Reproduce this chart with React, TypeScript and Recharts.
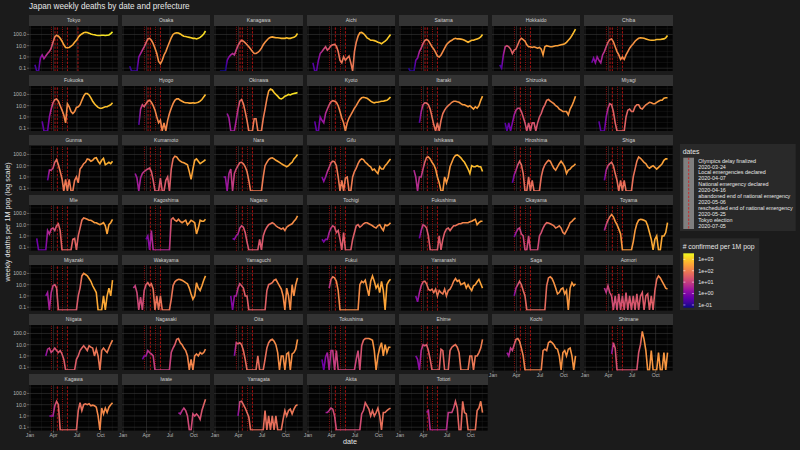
import React from "react";
import {
  LineChart,
  Line,
  XAxis,
  YAxis,
  CartesianGrid,
  ReferenceLine,
} from "recharts";

// weekly confirmed per 1M pop, one sample every 7 days from each start day (day 0 = 2020-01-01)
const tokyo = [0.2, 0, 0, 0.8, 1.5, 0.7, 1.2, 2, 3, 6, 20, 60, 85, 70, 45, 25, 12, 7, 6.5, 7, 9, 12, 20, 30, 55, 85, 110, 140, 155, 150, 130, 110, 100, 95, 85, 80, 80, 85, 85, 80, 85, 90, 120, 170];
const osaka = [0.15, 0, 0, 0, 0, 1, 2, 4, 8, 18, 40, 45, 30, 15, 6, 2, 0.4, 0.25, 0.5, 1.5, 3, 8, 20, 50, 100, 130, 140, 135, 110, 85, 70, 65, 60, 55, 50, 45, 45, 40, 45, 55, 75, 110, 200];
const kanagawa = [0, 0, 0, 0, 0.5, 1, 1.5, 2, 1.5, 4, 10, 20, 30, 25, 18, 12, 8, 5, 3, 2, 2, 2.5, 3.5, 6, 12, 20, 30, 45, 55, 60, 55, 50, 50, 48, 45, 45, 45, 50, 45, 45, 50, 55, 70, 120];
const aichi = [0.3, 0, 0, 0.5, 2, 3, 5, 8, 4, 6, 10, 12, 13, 9, 3, 0.5, 0.3, 1, 0.5, 0.8, 1.2, 0.3, 0, 3, 20, 70, 140, 150, 120, 80, 50, 40, 30, 30, 28, 25, 20, 18, 15, 20, 25, 35, 60, 100];
const saitama = [0.1, 0, 0, 0, 0.5, 0.8, 3, 6, 15, 28, 35, 28, 15, 8, 5, 2.5, 1.2, 1, 1.5, 3, 6, 12, 18, 25, 30, 40, 45, 40, 40, 38, 35, 30, 25, 20, 25, 30, 30, 35, 40, 45, 60, 100];
const hokkaido = [0.2, 0.1, 1.5, 8, 10, 8, 5, 2, 4, 5, 12, 30, 45, 35, 25, 12, 8, 8, 7, 8, 7, 6, 7, 5, 1.5, 8, 10, 9, 8, 8, 9, 10, 10, 11, 12, 13, 15, 20, 30, 45, 80, 150, 300];
const chiba = [0.3, 0.8, 0.3, 1, 0.5, 0.3, 1.5, 3, 8, 20, 35, 40, 22, 8, 3, 1.5, 0.6, 1, 0.6, 1.5, 3, 6, 10, 15, 25, 35, 45, 50, 48, 45, 40, 35, 32, 30, 30, 32, 35, 35, 35, 38, 40, 50, 80];
const fukuoka = [0.4, 0, 0, 0, 1, 5, 18, 35, 40, 25, 10, 4, 1.5, 0.3, 15, 8, 3, 2, 3, 7, 8, 12, 30, 70, 120, 120, 90, 50, 25, 15, 10, 7, 6, 6, 7, 8, 8, 10, 12, 18];
const hyogo = [0.2, 5, 12, 8, 15, 25, 30, 20, 10, 4, 1, 0.3, 0.5, 0, 0.3, 0, 0.5, 2, 6, 15, 30, 40, 40, 30, 25, 20, 18, 18, 17, 17, 18, 17, 18, 20, 25, 35, 60, 100];
const okinawa = [2, 0.8, 0, 0, 0, 0.5, 5, 25, 35, 15, 3, 0.5, 0, 0, 0, 0.7, 0.7, 0, 0, 0, 0.7, 5, 40, 200, 300, 250, 150, 100, 70, 45, 40, 50, 70, 80, 100, 90, 110, 120, 130, 150];
const kyoto = [0.4, 0, 0, 1, 0.5, 0.3, 2, 5, 12, 22, 28, 25, 20, 10, 3, 0.8, 0.3, 0, 0.3, 0.8, 1.5, 3, 6, 10, 20, 35, 50, 55, 50, 45, 35, 25, 20, 18, 20, 20, 22, 25, 25, 28, 30, 40, 60];
const ibaraki = [0.3, 3, 12, 18, 17, 12, 5, 1, 0.2, 0, 0.3, 0, 0.5, 2, 4, 7, 10, 14, 20, 25, 25, 22, 20, 15, 12, 12, 10, 8, 10, 7, 5, 8, 6, 10, 30, 70];
const shizuoka = [0.3, 0, 0.3, 0, 0.3, 1.5, 4, 6, 6, 3, 1, 0.3, 0, 0.3, 0, 0.3, 0.3, 0, 0.3, 1, 2, 6, 12, 30, 35, 25, 20, 15, 10, 8, 5, 4, 3, 3, 3, 1.5, 5, 10, 25, 70];
const miyagi = [0.4, 0, 0, 0, 1, 6, 15, 12, 3, 0.3, 0, 0, 0, 0, 0, 1, 4, 5, 3, 3, 8, 12, 12, 6, 5, 8, 12, 15, 20, 18, 15, 15, 20, 25, 30, 30, 45, 50, 50];
const gunma = [0.5, 4, 4, 6, 20, 35, 12, 3, 0.7, 0, 0.6, 0, 0.6, 0, 0, 0.5, 1, 0.3, 5, 8, 15, 20, 40, 35, 25, 30, 45, 50, 25, 15, 30, 45, 12, 15, 20, 15, 25];
const kumamoto = [2, 0.8, 0, 0.8, 2, 3, 4, 5, 6, 3, 0.5, 0, 0, 0, 0.8, 0, 0, 0.5, 1, 0, 5, 40, 70, 60, 35, 25, 20, 18, 15, 12, 3, 0.6, 5, 30, 40, 25, 15, 20, 25, 35];
const nara = [1, 1, 0, 2, 5, 0, 2, 5, 10, 18, 20, 15, 8, 3, 0.5, 0, 0, 0, 0, 0, 0, 0, 1, 10, 20, 35, 45, 50, 40, 30, 25, 20, 15, 12, 10, 8, 10, 15, 20, 40, 60, 100];
const gifu = [1, 0.4, 1, 3, 7, 18, 25, 22, 10, 1, 0, 0.5, 0, 0.8, 1, 0, 0, 1, 3, 6, 15, 30, 40, 35, 20, 15, 10, 8, 4, 5, 3, 2, 8, 5, 5, 10, 15, 25, 40];
const ishikawa = [4, 1, 0, 1, 1, 5, 20, 55, 60, 40, 20, 12, 5, 1, 0.3, 0, 0, 1, 0.3, 1, 8, 20, 50, 80, 90, 70, 50, 30, 20, 10, 5, 2, 10, 8, 8, 10, 8, 8, 3];
const hiroshima = [0.3, 1.5, 4, 12, 25, 12, 2, 0, 0, 1, 0, 0.5, 0, 0, 0, 0, 1, 5, 12, 20, 30, 25, 12, 6, 4, 8, 15, 25, 15, 8, 2, 4, 5, 8, 10, 15];
const shiga = [0.5, 4, 10, 15, 20, 10, 2, 0.5, 0, 0.5, 0, 0.5, 0, 0, 0, 0, 1, 5, 25, 60, 45, 30, 20, 15, 8, 6, 8, 10, 7, 5, 7, 10, 15, 30, 40, 40];
const mie = [0.6, 0, 0, 0, 0, 0, 3, 1.5, 4, 5, 3, 8, 12, 3, 0, 0, 0, 0, 0, 0, 0.5, 0.6, 0, 1, 5, 25, 40, 35, 30, 25, 25, 20, 15, 15, 12, 10, 12, 15, 8, 1.5, 10, 15, 30];
const kagoshima = [0.5, 1, 0, 3, 0, 0, 0, 0, 0, 0, 0, 0, 0, 0, 30, 40, 25, 20, 30, 20, 15, 20, 25, 10, 15, 25, 20, 15, 1.5, 5, 25, 20, 20, 30];
const nagano = [0.6, 0.5, 1, 1.5, 5, 8, 6, 2, 0.3, 0, 0, 0, 0, 0, 0, 0.5, 0, 1, 3, 6, 10, 12, 15, 12, 8, 6, 5, 4, 5, 3, 6, 8, 10, 12, 20, 30, 60];
const tochigi = [0.5, 0.3, 0.5, 0.5, 2, 5, 8, 6, 2, 3, 0.5, 0, 2, 0, 0, 0, 0, 0.5, 2, 8, 10, 6, 8, 12, 15, 15, 12, 10, 8, 6, 5, 8, 10, 5, 3, 10, 8, 10, 15];
const fukushima = [0.6, 3, 10, 8, 5, 1, 0, 0, 0, 0, 0, 1, 0, 0.5, 2, 4, 5, 3, 5, 8, 8, 10, 12, 12, 15, 15, 15, 15, 18, 20, 25, 30, 10, 15, 20, 20];
const okayama = [0.8, 2, 4, 5, 1.5, 1, 0, 0, 1, 0, 0, 0, 0, 0, 1, 2, 5, 10, 15, 14, 12, 10, 8, 5, 6, 8, 5, 2, 1.5, 3, 6, 15, 20, 30, 40];
const toyama = [3, 10, 25, 50, 80, 50, 20, 10, 4, 1.5, 0, 0, 0, 0, 0, 0, 0.3, 3, 12, 25, 30, 28, 25, 20, 8, 2, 0.5, 0, 0.5, 1, 0, 0, 1, 1, 2, 15];
const miyazaki = [1, 2, 0, 2, 8, 10, 5, 0, 0, 0, 0, 0, 0, 0, 0, 0, 0, 0, 1, 5, 60, 100, 80, 60, 35, 20, 8, 4, 2, 0, 0, 0, 1, 0, 1, 5, 1, 25];
const wakayama = [5, 8, 2, 0, 0.8, 0, 3, 10, 15, 8, 12, 4, 0, 1, 0, 1, 0, 0, 0, 0, 0, 0.5, 8, 18, 25, 30, 28, 25, 20, 15, 12, 5, 1.5, 0.5, 1, 15, 5, 3, 8, 25, 60];
const yamaguchi = [1, 0, 1, 1, 5, 12, 8, 5, 1, 1, 0, 0, 0, 0, 0, 0, 0, 0, 0, 0, 3, 10, 12, 15, 25, 30, 15, 8, 4, 1, 0, 5, 1, 0, 10, 1, 10, 40];
const fukui = [5, 30, 50, 40, 20, 3, 0, 0, 0, 0, 0, 0, 0, 0, 0, 0, 0, 10, 20, 15, 25, 5, 1, 20, 60, 20, 5, 10, 2, 20, 3, 0, 10, 20, 30];
const yamanashi = [1, 0.3, 2, 8, 18, 20, 12, 4, 3, 4, 2, 4, 1, 3, 2, 1.5, 4, 1, 3, 4, 8, 20, 35, 20, 25, 10, 12, 15, 5, 10, 5, 3, 8, 10, 18, 30, 12, 5];
const saga = [1, 5, 10, 20, 10, 3, 1, 0, 0, 0, 0, 0, 0, 0, 0, 0, 0, 0, 8, 40, 50, 35, 15, 5, 1.5, 2, 4, 5, 1.5, 3, 0, 5, 15, 8, 12];
const aomori = [5, 2, 8, 2, 1, 0, 1, 0, 1.5, 0, 1, 0, 2, 0, 1, 0, 1, 0, 1.5, 0, 1, 2, 0, 1, 1.5, 0, 1, 0, 3, 30, 60, 40, 20, 10, 5, 4];
const niigata = [1, 4, 5, 2, 3, 5, 3, 2, 3, 1.5, 0.5, 0, 0, 0, 0, 0, 0, 0.5, 1, 3, 5, 8, 5, 3, 8, 6, 5, 1, 4, 1, 0, 3, 5, 3, 2, 5, 12, 25];
const nagasaki = [0.5, 1, 1, 3, 2, 1.5, 1, 0, 0, 0, 0, 0, 0, 0, 0, 0, 2, 5, 10, 30, 35, 15, 10, 5, 3, 1, 0, 0.5, 0, 1, 1.5, 1, 2, 1.5, 2, 4];
const oita = [1, 15, 12, 15, 10, 3, 0.5, 0, 0, 0, 0, 0, 0, 1, 0, 0, 0, 0.5, 5, 15, 25, 30, 20, 10, 2, 0, 1, 1, 0, 1.5, 2, 0, 1.5, 2, 4, 30];
const tokushima = [0.5, 0, 0.8, 2, 0, 3, 3, 0, 3, 0, 0, 0, 0, 0, 0, 0, 0, 0, 0, 0.5, 3, 0, 8, 25, 35, 35, 35, 30, 25, 3, 0, 1, 5, 15, 1, 10, 2, 6, 6];
const ehime = [1, 0.5, 0, 3, 10, 8, 10, 3, 0.5, 0, 0, 0, 0, 0, 4, 3, 0, 0, 0, 3, 6, 8, 10, 6, 2, 0, 0, 0, 0, 0, 1, 1, 0, 1, 1, 2, 5, 30];
const kochi = [2, 1, 5, 3, 10, 30, 35, 20, 5, 1, 0, 0, 0, 0, 0, 0, 0, 0, 0, 0, 3, 4, 3, 15, 20, 15, 10, 5, 4, 1, 0, 2, 3, 1, 4, 5, 1, 0, 1];
const shimane = [1.5, 15, 5, 0, 0, 0, 0, 0, 0, 0, 0, 0, 0, 0, 0, 2, 10, 150, 30, 3, 0, 0, 3, 0, 0, 0, 2, 0, 0, 2, 0, 2];
const kagawa = [1, 1, 1, 8, 20, 10, 0, 0, 0, 0, 0, 0, 0, 0, 0, 0, 3, 15, 3, 10, 12, 10, 12, 8, 9, 8, 6, 1, 0, 5, 1.5, 5, 2, 6, 10, 15];
const iwate = [2, 1.5, 3, 5, 3, 1, 0, 0, 1.5, 1, 1.5, 1, 0.5, 3, 10, 30];
const yamagata = [1, 18, 20, 10, 5, 2, 0.8, 0, 0, 0, 0, 0, 0, 0, 0, 3, 0, 1, 0, 1, 0, 1, 0, 0, 0, 0.5, 3, 1, 3, 4, 1.5, 4, 8, 10];
const akita = [2, 2, 3, 5, 4, 1, 0, 0, 0, 0, 0, 0, 0, 0, 0, 0, 0, 0, 0, 0, 1.5, 3, 15, 8, 4, 1, 3, 1, 2, 5, 1, 0, 2, 2, 3, 4, 5];
const tottori = [2, 3, 0, 0, 0, 0, 0, 0, 0, 0, 0, 0, 2, 2, 2, 5, 20, 5, 0, 0, 20, 2, 1.5, 0, 0, 0, 0, 0, 3, 5, 20, 2];

const prefectures = [
  { name: "Tokyo", start: 19, values: tokyo },
  { name: "Osaka", start: 26, values: osaka },
  { name: "Kanagawa", start: 19, values: kanagawa },
  { name: "Aichi", start: 19, values: aichi },
  { name: "Saitama", start: 33, values: saitama },
  { name: "Hokkaido", start: 26, values: hokkaido },
  { name: "Chiba", start: 26, values: chiba },
  { name: "Fukuoka", start: 47, values: fukuoka },
  { name: "Hyogo", start: 61, values: hyogo },
  { name: "Okinawa", start: 47, values: okinawa },
  { name: "Kyoto", start: 26, values: kyoto },
  { name: "Ibaraki", start: 75, values: ibaraki },
  { name: "Shizuoka", start: 47, values: shizuoka },
  { name: "Miyagi", start: 54, values: miyagi },
  { name: "Gunma", start: 68, values: gunma },
  { name: "Kumamoto", start: 47, values: kumamoto },
  { name: "Nara", start: 33, values: nara },
  { name: "Gifu", start: 54, values: gifu },
  { name: "Ishikawa", start: 54, values: ishikawa },
  { name: "Hiroshima", start: 75, values: hiroshima },
  { name: "Shiga", start: 75, values: shiga },
  { name: "Mie", start: 26, values: mie },
  { name: "Kagoshima", start: 89, values: kagoshima },
  { name: "Nagano", start: 68, values: nagano },
  { name: "Tochigi", start: 54, values: tochigi },
  { name: "Fukushima", start: 75, values: fukushima },
  { name: "Okayama", start: 82, values: okayama },
  { name: "Toyama", start: 75, values: toyama },
  { name: "Miyazaki", start: 61, values: miyazaki },
  { name: "Wakayama", start: 40, values: wakayama },
  { name: "Yamaguchi", start: 61, values: yamaguchi },
  { name: "Fukui", start: 82, values: fukui },
  { name: "Yamanashi", start: 61, values: yamanashi },
  { name: "Saga", start: 82, values: saga },
  { name: "Aomori", start: 75, values: aomori },
  { name: "Niigata", start: 61, values: niigata },
  { name: "Nagasaki", start: 75, values: nagasaki },
  { name: "Oita", start: 75, values: oita },
  { name: "Tokushima", start: 54, values: tokushima },
  { name: "Ehime", start: 61, values: ehime },
  { name: "Kochi", start: 54, values: kochi },
  { name: "Shimane", start: 103, values: shimane },
  { name: "Kagawa", start: 75, values: kagawa },
  { name: "Iwate", start: 215, values: iwate },
  { name: "Yamagata", start: 89, values: yamagata },
  { name: "Akita", start: 68, values: akita },
  { name: "Tottori", start: 103, values: tottori },
];

const eventLabels = [
  "Olympics delay finalized",
  "Local emergencies declared",
  "National emergency declared",
  "abandoned end of national emergency",
  "rescheduled end of national emergency",
  "Tokyo election",
];
const eventDates = ["2020-03-24", "2020-04-07", "2020-04-16", "2020-05-06", "2020-05-25", "2020-07-05"];
const localEmergency = ["Tokyo", "Kanagawa", "Saitama", "Chiba", "Osaka", "Hyogo", "Fukuoka"];

const monthLabels = ["Jan", "Apr", "Jul", "Oct"];
const monthDates = ["2020-01-01", "2020-04-01", "2020-07-01", "2020-10-01"];
const minorXDates = ["2020-02-15", "2020-05-16", "2020-08-16", "2020-11-15"];

const yTicks = [0.1, 1, 10, 100];
const yMinor = [0.316, 3.16, 31.6, 316];
const colorTicks = ["1e+03", "1e+02", "1e+01", "1e+00", "1e-01"];

const STEP = 7;
const FLOOR = 0.057;

const dayOf = (s: string) =>
  Math.round((Date.parse(s) - Date.parse("2020-01-01")) / 86400000);

const monthDays = monthDates.map(dayOf);
const minorDays = minorXDates.map(dayOf);
const eventDays = eventDates.map(dayOf);

// layout
const X0 = 29.3;
const COL = 92.5;
const PW = 88.7;
const Y0 = 15.3;
const ROW = 59.8;
const SH = 10.6;
const PH = 45.6;
const YW = 24;
const XH = 9;
const PAD = 8; // room for the "Jan" label left of inner panels

const FONT = "'Liberation Sans', Arial, sans-serif";
const BG = "#1b1b1b";
const PANEL_BG = "#030303";
const STRIP_BG = "#333333";
const GRID_MAJOR = "#3a3a3a";
const GRID_MINOR = "#242424";
const AXIS_TEXT = "#b5b5b5";
const TEXT = "#e6e6e6";
const LEGEND_BG = "#292929";
const VLINE = "#d41616";

const PLASMA = ["#0d0887", "#41049d", "#6a00a8", "#8f0da4", "#b12a90", "#cc4778", "#e16462", "#f2844b", "#fca636", "#fcce25", "#f0f921"];
const LOG_MIN = -1.24;
const LOG_MAX = 3.53;

function plasma(t: number) {
  const x = Math.max(0, Math.min(1, t)) * (PLASMA.length - 1);
  const i = Math.min(PLASMA.length - 2, Math.floor(x));
  const f = x - i;
  const a = PLASMA[i], b = PLASMA[i + 1];
  const ch = (h: string, k: number) => parseInt(h.slice(1 + 2 * k, 3 + 2 * k), 16);
  const c = [0, 1, 2].map((k) => Math.round(ch(a, k) + (ch(b, k) - ch(a, k)) * f));
  return `rgb(${c[0]},${c[1]},${c[2]})`;
}

function confColor(c: number) {
  if (c <= 0) return plasma(0);
  return plasma((Math.log10(c) - LOG_MIN) / (LOG_MAX - LOG_MIN));
}

function Panel({ p, index }: { p: (typeof prefectures)[number]; index: number }) {
  const r = Math.floor(index / 7);
  const c = index % 7;
  const left = X0 + c * COL;
  const top = Y0 + r * ROW;
  const isLeft = c === 0;
  const isBottom = index + 7 >= prefectures.length;

  const data = p.values.map((v, i) => ({ day: p.start + STEP * i, v: Math.max(v, FLOOR) }));
  let cum = 0;
  const stops = p.values.map((v, i) => {
    cum += v;
    return { off: i / (p.values.length - 1), color: confColor(cum) };
  });
  const gid = "grad-" + p.name;

  const events = eventDays
    .map((d, i) => ({ d, i }))
    .filter(({ d, i }) => {
      if (d < p.start - 3) return false;
      if (i === 1) return localEmergency.includes(p.name);
      if (i === 5) return p.name === "Tokyo";
      return true;
    });

  const padLeft = isLeft ? 0 : PAD;
  const extra = isLeft ? YW : PAD;
  const cw = PW + extra;
  const ch = PH + (isBottom ? XH : 0);

  return (
    <>
      <div
        style={{
          position: "absolute",
          left,
          top,
          width: PW,
          height: SH,
          background: STRIP_BG,
          color: "#d0d0d0",
          fontSize: 5,
          lineHeight: SH + "px",
          textAlign: "center",
          fontFamily: FONT,
        }}
      >
        {p.name}
      </div>
      <div style={{ position: "absolute", left: left - extra, top: top + SH }}>
        <LineChart
          width={cw}
          height={ch}
          data={data}
          margin={{ top: 0, right: 0, bottom: 0, left: padLeft }}
        >
          <defs>
            <linearGradient id={gid} x1="0" y1="0" x2="1" y2="0">
              {stops.map((s, i) => (
                <stop key={i} offset={s.off} stopColor={s.color} />
              ))}
            </linearGradient>
          </defs>
          <CartesianGrid
            fill={PANEL_BG}
            stroke={GRID_MINOR}
            strokeWidth={0.4}
            horizontalValues={yMinor}
            verticalValues={minorDays}
          />
          <CartesianGrid
            stroke={GRID_MAJOR}
            strokeWidth={0.6}
            horizontalValues={yTicks}
            verticalValues={monthDays}
          />
          <XAxis
            dataKey="day"
            type="number"
            domain={[-4, 340]}
            allowDataOverflow
            ticks={monthDays}
            interval={0}
            tickFormatter={(d: number) => monthLabels[monthDays.indexOf(d)] ?? ""}
            height={XH}
            hide={!isBottom}
            axisLine={false}
            tickSize={2}
            tickMargin={0.5}
            tickLine={{ stroke: "#9a9a9a", strokeWidth: 0.5 }}
            tick={{ fill: AXIS_TEXT, fontSize: 5.2, fontFamily: FONT }}
          />
          <YAxis
            type="number"
            scale="log"
            domain={[0.05, 560]}
            allowDataOverflow
            ticks={yTicks}
            interval={0}
            tickFormatter={(v: number) => v.toFixed(1)}
            width={YW}
            hide={!isLeft}
            axisLine={false}
            tickSize={2}
            tickMargin={0.8}
            tickLine={{ stroke: "#9a9a9a", strokeWidth: 0.5 }}
            tick={{ fill: AXIS_TEXT, fontSize: 5.2, fontFamily: FONT }}
          />
          {events.map(({ d, i }) => (
            <ReferenceLine
              key={i}
              x={d}
              stroke={VLINE}
              strokeWidth={0.8}
              strokeDasharray={i === 0 || i === 3 ? "0.8 1.4" : "2.4 1.4"}
            />
          ))}
          <Line
            type="linear"
            dataKey="v"
            stroke={`url(#${gid})`}
            strokeWidth={1.6}
            dot={false}
            isAnimationActive={false}
          />
        </LineChart>
      </div>
    </>
  );
}

function Overlay() {
  const cbTop = 253.3;
  const cbBottom = 307.7;
  const cy = (lg: number) => cbBottom - ((lg - LOG_MIN) / (LOG_MAX - LOG_MIN)) * (cbBottom - cbTop);
  const cbStops = PLASMA.map((_, i) => i / (PLASMA.length - 1));
  return (
    <svg
      width={800}
      height={450}
      style={{ position: "absolute", left: 0, top: 0, pointerEvents: "none" }}
      fontFamily={FONT}
    >
      <defs>
        <linearGradient id="colorbar" x1="0" y1="1" x2="0" y2="0">
          {cbStops.map((t, i) => (
            <stop key={i} offset={t} stopColor={plasma(t)} />
          ))}
        </linearGradient>
      </defs>
      <text x={29} y={9.3} fontSize={8.2} fill={TEXT}>
        Japan weekly deaths by date and prefecture
      </text>
      <text transform="translate(10,222) rotate(-90)" textAnchor="middle" fontSize={7.2} fill={TEXT}>
        weekly deaths per 1M pop (log scale)
      </text>
      <text x={350} y={444} textAnchor="middle" fontSize={7.2} fill={TEXT}>
        date
      </text>

      {/* dates legend */}
      <rect x={680} y={144} width={115.7} height={87} fill={LEGEND_BG} />
      <text x={682.7} y={153.5} fontSize={6.8} fill={TEXT}>
        dates
      </text>
      <rect x={683.3} y={157.7} width={10.7} height={71.3} fill="#7f7f7f" />
      <line x1={688.7} x2={688.7} y1={157.7} y2={229} stroke={VLINE} strokeWidth={0.8} strokeDasharray="2.4 1.4" />
      {eventLabels.map((l, i) => (
        <g key={i}>
          <text x={698.3} y={162.6 + i * 11.88} fontSize={5.4} fill={TEXT}>
            {l}
          </text>
          <text x={698.3} y={168.5 + i * 11.88} fontSize={5.4} fill={TEXT}>
            {eventDates[i]}
          </text>
        </g>
      ))}

      {/* colour legend */}
      <rect x={680} y={238.3} width={79.3} height={71.7} fill={LEGEND_BG} />
      <text x={682.7} y={249} fontSize={6.8} fill={TEXT}>
        # confirmed per 1M pop
      </text>
      <rect x={683.3} y={cbTop} width={10.7} height={cbBottom - cbTop} fill="url(#colorbar)" />
      {colorTicks.map((l, i) => {
        const y = cy(3 - i);
        return (
          <g key={l}>
            <line x1={683.3} x2={685.4} y1={y} y2={y} stroke="#ffffff" strokeWidth={0.5} />
            <line x1={691.9} x2={694} y1={y} y2={y} stroke="#ffffff" strokeWidth={0.5} />
            <text x={698.3} y={y + 1.9} fontSize={5.4} fill={TEXT}>
              {l}
            </text>
          </g>
        );
      })}
    </svg>
  );
}

export default function App() {
  return (
    <div
      style={{
        position: "absolute",
        left: 0,
        top: 0,
        width: 800,
        height: 450,
        background: BG,
        overflow: "hidden",
      }}
    >
      {prefectures.map((p, i) => (
        <Panel key={p.name} p={p} index={i} />
      ))}
      <Overlay />
    </div>
  );
}
